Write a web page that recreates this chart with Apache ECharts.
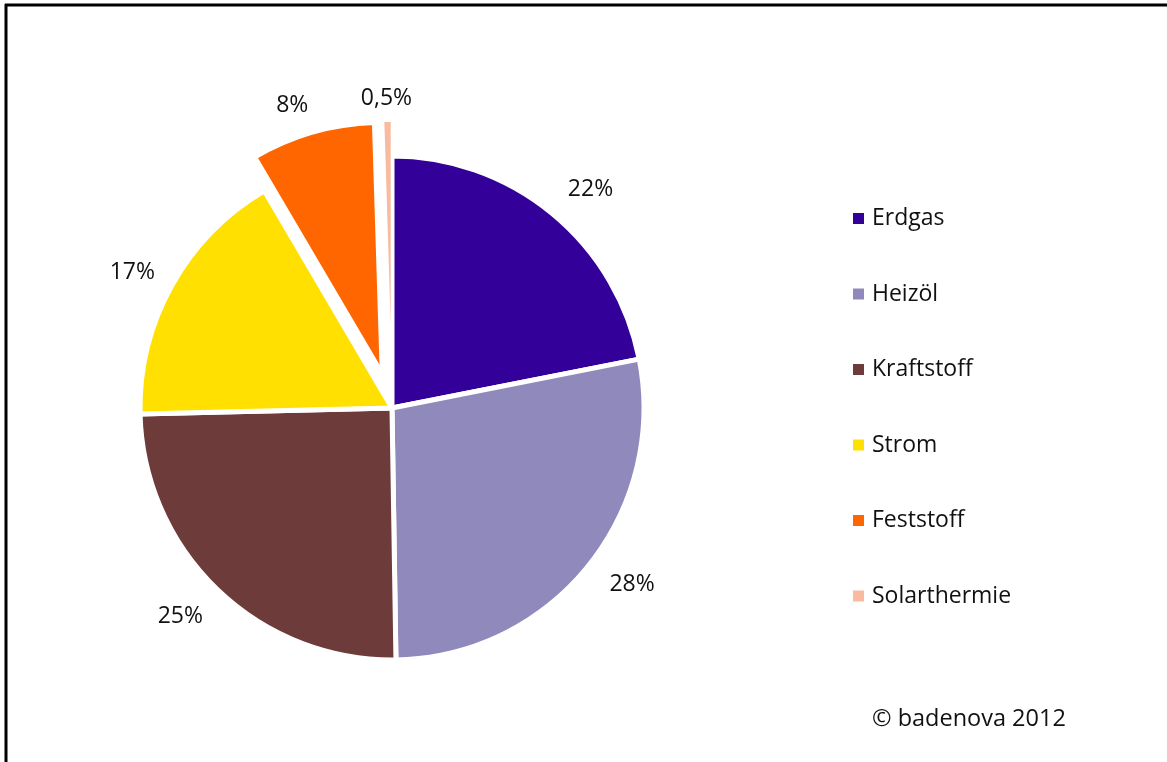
<!DOCTYPE html>
<html>
<head>
<meta charset="utf-8">
<script src="https://cdn.jsdelivr.net/npm/echarts@6/dist/echarts.min.js"></script>
<style>
html,body{margin:0;padding:0;background:#fff;}
#chart{width:1167px;height:762px;}
</style>
</head>
<body>
<div id="chart"></div>
<script>
var categories = ['Erdgas', 'Heizöl', 'Kraftstoff', 'Strom', 'Feststoff', 'Solarthermie'];
var values = [22, 28, 25, 17, 8, 0.5];
var colors = ['#330099', '#9089BB', '#6D3B39', '#FFE000', '#FF6600', '#F8BBA0'];
var exploded = ['Feststoff', 'Solarthermie'];
var footer = '© badenova 2012';

var FONT = '"Open Sans", "Noto Sans", sans-serif';
// small label nudges (style only)
var labelNudge = [[-5, -5], [-3, 2], [8, 9], [10, -1], [8, -3], [30, 2]];

var data = categories.map(function (c, i) {
  var item = {
    name: c,
    value: values[i],
    selected: exploded.indexOf(c) >= 0,
    itemStyle: { color: colors[i] }
  };
  if (c === 'Solarthermie') item.itemStyle.borderWidth = 1.5;
  return item;
});

var chart = echarts.init(document.getElementById('chart'), null, { renderer: 'canvas' });
chart.setOption({
  animation: false,
  backgroundColor: '#ffffff',
  legend: {
    orient: 'vertical',
    left: 851,
    top: 207,
    padding: 0,
    icon: 'rect',
    itemWidth: 13,
    itemHeight: 13,
    itemGap: 52.5,
    selectedMode: false,
    data: categories,
    textStyle: {
      fontFamily: FONT,
      fontSize: 23,
      color: '#111111',
      padding: [0, 0, 0, 2]
    }
  },
  graphic: [
    { type: 'line', shape: { x1: 5, y1: 5, x2: 1167, y2: 5 }, style: { stroke: '#000', lineWidth: 3 } },
    { type: 'line', shape: { x1: 6, y1: 4, x2: 6, y2: 762 }, style: { stroke: '#000', lineWidth: 3 } },
    { type: 'text', left: 872, top: 707, style: { text: footer, fontFamily: FONT, fontSize: 23.5, fill: '#111111' } }
  ],
  series: [{
    type: 'pie',
    center: [392, 408],
    radius: 252,
    startAngle: 90,
    clockwise: true,
    selectedMode: 'multiple',
    selectedOffset: 35,
    avoidLabelOverlap: false,
    emphasis: { disabled: true },
    itemStyle: { borderColor: '#ffffff', borderWidth: 5 },
    label: {
      show: true,
      position: 'outside',
      fontFamily: FONT,
      fontSize: 23,
      color: '#111111',
      formatter: function (p) { return String(p.value).replace('.', ',') + '%'; }
    },
    labelLine: { show: false, length: 25, length2: 0 },
    labelLayout: function (p) {
      var n = labelNudge[p.dataIndex] || [0, 0];
      return { dx: n[0], dy: n[1] };
    },
    data: data
  }]
});
</script>
</body>
</html>
